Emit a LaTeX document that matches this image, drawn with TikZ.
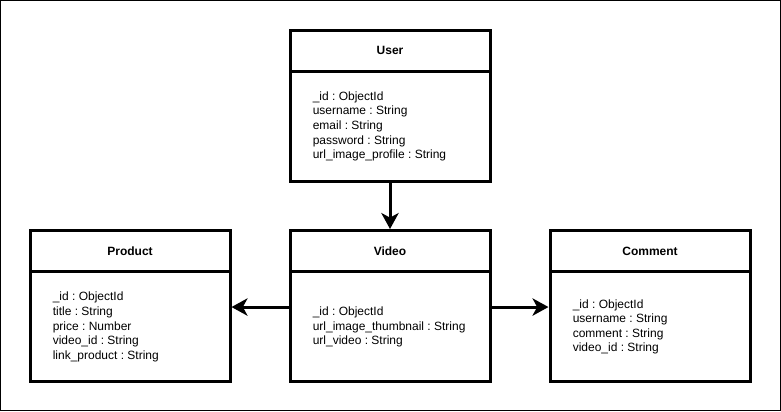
\documentclass[tikz,border=0pt]{standalone}
\usepackage{fontspec}
\setmainfont{Liberation Sans}
\frenchspacing
\usetikzlibrary{arrows.meta}
\tikzset{
  hdr/.style={draw, line width=2.25pt, minimum width=150pt, minimum height=30.75pt, inner sep=0pt, font=\bfseries\fontsize{9}{10.9}\selectfont},
  bodybox/.style={draw, line width=2.25pt, minimum width=150pt, minimum height=82.5pt, inner sep=0pt},
  attrs/.style={anchor=west, inner sep=0pt, align=left, font=\fontsize{9}{10.9}\selectfont},
  conn/.style={line width=2.25pt, -{Stealth[length=12pt,width=13pt,inset=3.5pt]}}
}
\begin{document}
\begin{tikzpicture}[x=0.75pt,y=-0.75pt]
\useasboundingbox (0,0) rectangle (781,411);
\draw[line width=0.75pt] (0.5,0.5) rectangle (780.5,410.5);
% User
\node[hdr] (userh) at (390,50.5) {User};
\node[bodybox] (userb) at (390,126) {};
\node[attrs] (usert) at ([xshift=18pt,yshift=-0.3pt]userb.west) {\_id : ObjectId\\username : String\\email : String\\password : String\\url\_image\_profile : String};
% Product
\node[hdr] (prodh) at (130,251) {Product};
\node[bodybox] (prodb) at (130,326.5) {};
\node[attrs] (prodt) at ([xshift=18pt,yshift=-0.3pt]prodb.west) {\_id : ObjectId\\title : String\\price : Number\\video\_id : String\\link\_product : String};
% Video
\node[hdr] (vidh) at (390,251) {Video};
\node[bodybox] (vidb) at (390,326.5) {};
\node[attrs] (vidt) at ([xshift=18pt,yshift=-0.3pt]vidb.west) {\_id : ObjectId\\url\_image\_thumbnail : String\\url\_video : String};
% Comment
\node[hdr] (comh) at (650,251) {Comment};
\node[bodybox] (comb) at (650,326.5) {};
\node[attrs] (comt) at ([xshift=18pt,yshift=-0.3pt]comb.west) {\_id : ObjectId\\username : String\\comment : String\\video\_id : String};
% connectors
\draw[conn] (userb.south) -- (vidh.north);
\draw[conn] ([yshift=14.6pt]vidb.west) -- ([yshift=14.6pt]prodb.east);
\draw[conn] ([yshift=14.6pt]vidb.east) -- ([yshift=14.6pt]comb.west);
\end{tikzpicture}
\end{document}
